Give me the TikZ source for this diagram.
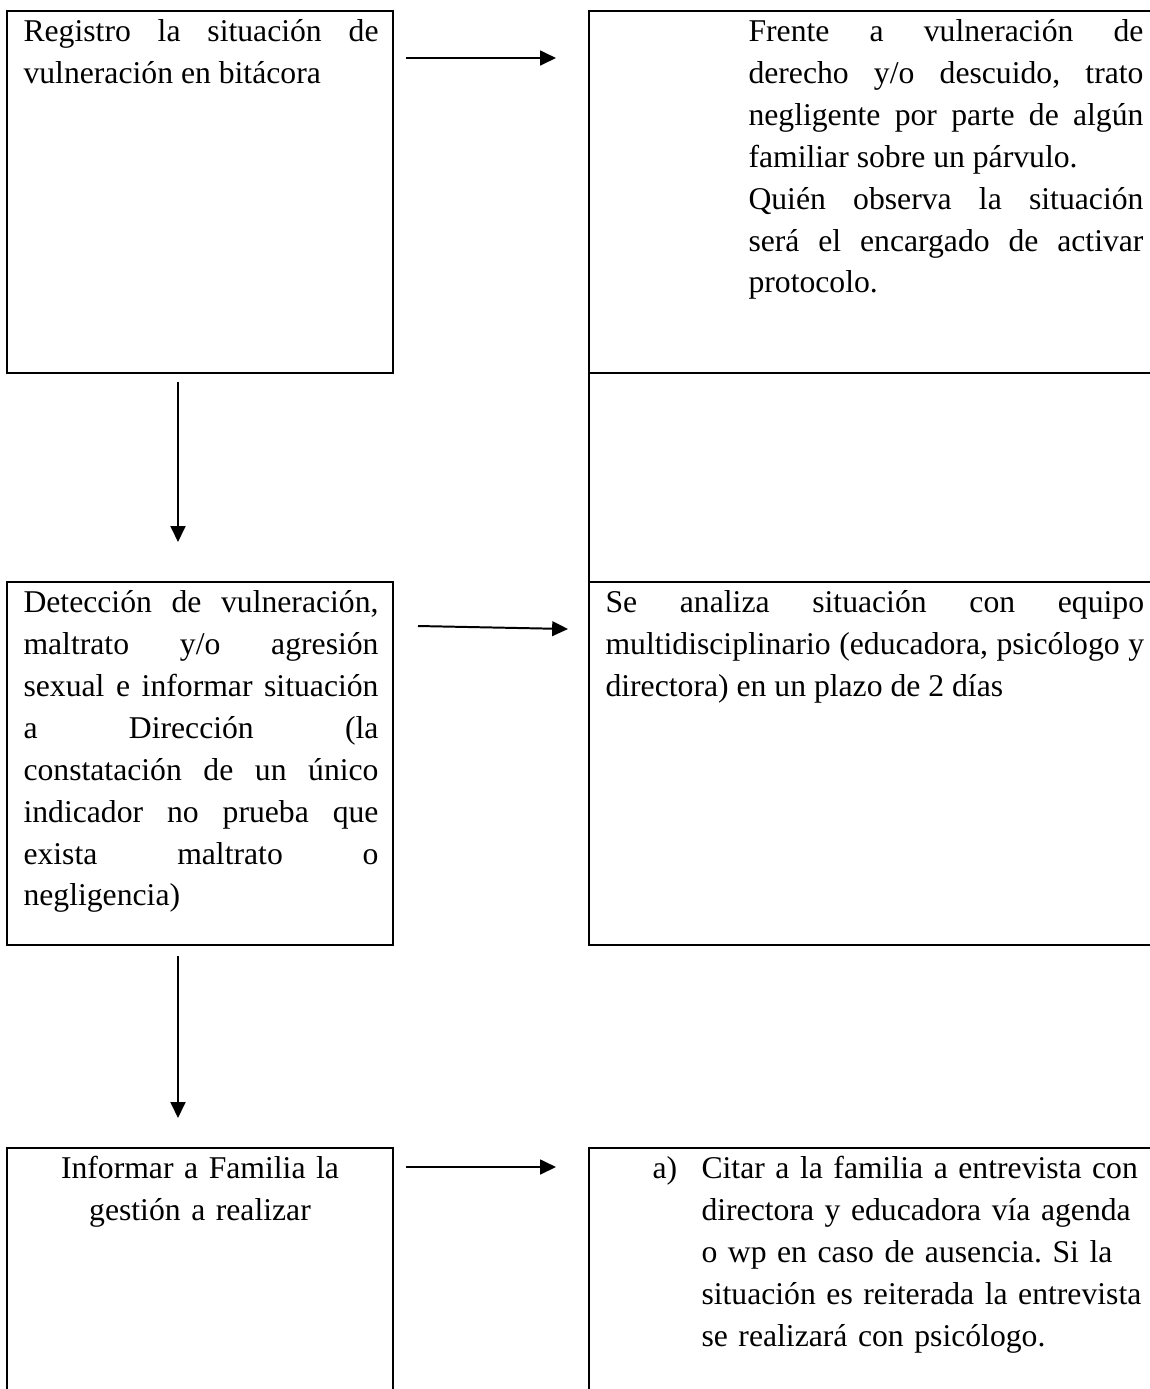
\documentclass[tikz,border=0pt]{standalone}
\usepackage{fontspec}
\setmainfont{Liberation Serif}
\usetikzlibrary{arrows.meta}
\tolerance=10000
\hyphenpenalty=10000
\newcommand\firststrut{\rule{0pt}{9.5pt}}
\begin{document}
\begin{tikzpicture}[x=0.37879pt, y=-0.37879pt,
  box/.style={draw, line width=0.8pt, inner sep=0pt, minimum width=146.21pt},
  rbox/.style={draw, line width=0.8pt, inner sep=0pt, minimum width=216.29pt},
  txt/.style={inner sep=0pt, anchor=north west, font=\fontsize{12pt}{15.87pt}\selectfont\frenchspacing},
  arr/.style={line width=0.75pt, -{Triangle[length=6pt,width=5.6pt]}}]
\useasboundingbox (0,0) rectangle (1150,1389);
\clip (0,0) rectangle (1150,1389);
% left column
\node[box, minimum height=137.12pt] (b1) at (200,192) {};
\node[box, minimum height=137.5pt] (b2) at (200,763.5) {};
\node[box, minimum height=137.12pt] (b3) at (200,1329) {};
% right column
\node[rbox, minimum height=137.12pt] (r1) at (874.5,192) {};
\node[rbox, minimum height=79.17pt] (r2) at (874.5,477.5) {};
\node[rbox, minimum height=137.5pt] (r3) at (874.5,763.5) {};
\node[rbox, minimum height=137.12pt] (r4) at (874.5,1329) {};
% texts
\node[txt, text width=134.47pt, align=justify] (t1) at (23,16)
  {\firststrut Registro la situación de\linebreak vulneración en bitácora};
\node[txt, text width=149.6pt, align=justify] (t2) at (748,16)
  {\firststrut Frente a vulneración de\linebreak derecho y/o descuido, trato\linebreak negligente por parte de algún\linebreak familiar sobre un párvulo.\par
   Quién observa la situación\linebreak será el encargado de activar\linebreak protocolo.};
\node[txt, text width=134.47pt, align=justify] (t3) at (23,587)
  {\firststrut Detección de vulneración,\linebreak maltrato y/o agresión\linebreak sexual e informar situación\linebreak a Dirección (la\linebreak constatación de un único\linebreak indicador no prueba que\linebreak exista maltrato o\linebreak negligencia)};
\node[txt, text width=204pt, align=justify] (t4) at (605,587)
  {\firststrut Se analiza situación con equipo\linebreak multidisciplinario (educadora, psicólogo y\linebreak directora) en un plazo de 2 días};
\node[txt, anchor=north, text width=134.47pt, align=center] (t5) at (200,1153)
  {\firststrut Informar a Familia la\\gestión a realizar};
\node[txt] (t6) at (652,1153) {\firststrut a)};
\node[txt, text width=167.4pt, align=left] (t7) at (701,1153)
  {\firststrut Citar a la familia a entrevista con\\directora y educadora vía agenda\\o wp en caso de ausencia. Si la\\situación es reiterada la entrevista\\se realizará con psicólogo.};
% connectors
\coordinate (a1s) at (406,58);   \coordinate (a1e) at (556,58);
\coordinate (a2s) at (178,382);  \coordinate (a2e) at (178,542);
\coordinate (a3s) at (418,626);  \coordinate (a3e) at (568,629);
\coordinate (a4s) at (178,956);  \coordinate (a4e) at (178,1118);
\coordinate (a5s) at (406,1167); \coordinate (a5e) at (556,1167);
\draw[arr] (a1s) -- (a1e);
\draw[arr] (a2s) -- (a2e);
\draw[arr] (a3s) -- (a3e);
\draw[arr] (a4s) -- (a4e);
\draw[arr] (a5s) -- (a5e);
\end{tikzpicture}
\end{document}
